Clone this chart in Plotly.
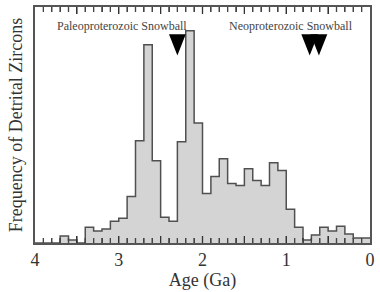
import plotly.graph_objects as go

# Histogram bins (Ga): bin start ages from 4.0 down to 0.1, width 0.1
bin_starts = [round(4.0 - 0.1 * i, 1) for i in range(40)]
counts = [0, 0, 0, 7, 3, 0, 16, 12, 14, 22,
          25, 47, 103, 200, 83, 26, 22, 102, 214, 121,
          50, 67, 85, 60, 58, 75, 63, 58, 81, 73,
          34, 16, 3, 8, 16, 12, 17, 9, 5, 5]

tick_vals = [0, 0.5, 1, 1.5, 2, 2.5, 3, 3.5, 4]
tick_text = ["0", "", "1", "", "2", "", "3", "", "4"]
major_ticks = [0.5, 1.0, 1.5, 2.0, 2.5, 3.0, 3.5]
minor_ticks = [round(0.1 * i, 1) for i in range(1, 40) if i % 5 != 0]

label_texts = ["Paleoproterozoic Snowball", "Neoproterozoic Snowball"]
label_x = [2.965, 0.944]
label_y = 219

glaciation_ages = [2.3, 0.72, 0.61]
triangle_top = 210.5
triangle_tip = 189.0
triangle_half_width = 0.1  # Ga

Y_MAX = 238
MAJOR_LEN = 7
MINOR_LEN = 5

FONT = "Liberation Serif, Times New Roman, serif"
LINE = "#555555"

xs = bin_starts + [0.0]
ys = counts + [counts[-1]]

fig = go.Figure()
fig.add_trace(go.Scatter(
    x=xs, y=ys, mode="lines", line=dict(shape="hv", color="#505050", width=1.5),
    fill="tozeroy", fillcolor="#d4d4d4", hoverinfo="skip", showlegend=False))

# tick marks (inside, bottom and top) built from the tick lists
tx, ty = [], []
for vals, ln in ((minor_ticks, MINOR_LEN), (major_ticks, MAJOR_LEN)):
    for v in vals:
        tx += [v, v, None, v, v, None]
        ty += [0, ln, None, Y_MAX, Y_MAX - ln, None]
fig.add_trace(go.Scatter(x=tx, y=ty, mode="lines", line=dict(color="#222222", width=1.3),
                         hoverinfo="skip", showlegend=False))

for a in glaciation_ages:
    fig.add_trace(go.Scatter(
        x=[a - triangle_half_width, a + triangle_half_width, a, a - triangle_half_width],
        y=[triangle_top, triangle_top, triangle_tip, triangle_top],
        mode="lines", fill="toself", fillcolor="black", line=dict(width=0, color="black"),
        hoverinfo="skip", showlegend=False))

for t, x in zip(label_texts, label_x):
    fig.add_annotation(x=x, y=label_y, text=t, showarrow=False,
                       font=dict(family=FONT, size=12, color="#444444"),
                       xanchor="center", yanchor="middle")

fig.update_xaxes(range=[4, 0], tickmode="array", tickvals=tick_vals, ticktext=tick_text,
                 ticks="inside", ticklen=MAJOR_LEN, tickwidth=1.3, tickcolor="#333333",
                 minor=dict(ticks="inside", dtick=0.1, tick0=0,
                            ticklen=MINOR_LEN, tickwidth=1, tickcolor="#444444"),
                 showline=True, linecolor=LINE, linewidth=1.5, mirror="allticks",
                 showgrid=False, zeroline=False,
                 tickfont=dict(family=FONT, size=18, color="#333333"),
                 title=dict(text="Age (Ga)", font=dict(family=FONT, size=18, color="#333333"),
                            standoff=4))
fig.update_yaxes(range=[0, Y_MAX], showticklabels=False, ticks="",
                 showline=True, linecolor=LINE, linewidth=1.5, mirror=True,
                 showgrid=False, zeroline=False,
                 title=dict(text="Frequency of Detrital Zircons",
                            font=dict(family=FONT, size=18, color="#333333"),
                            standoff=6))

fig.update_layout(width=380, height=292, margin=dict(l=35, r=5, t=5, b=49),
                  plot_bgcolor="white", paper_bgcolor="white", showlegend=False)

fig.write_html("out.html")
